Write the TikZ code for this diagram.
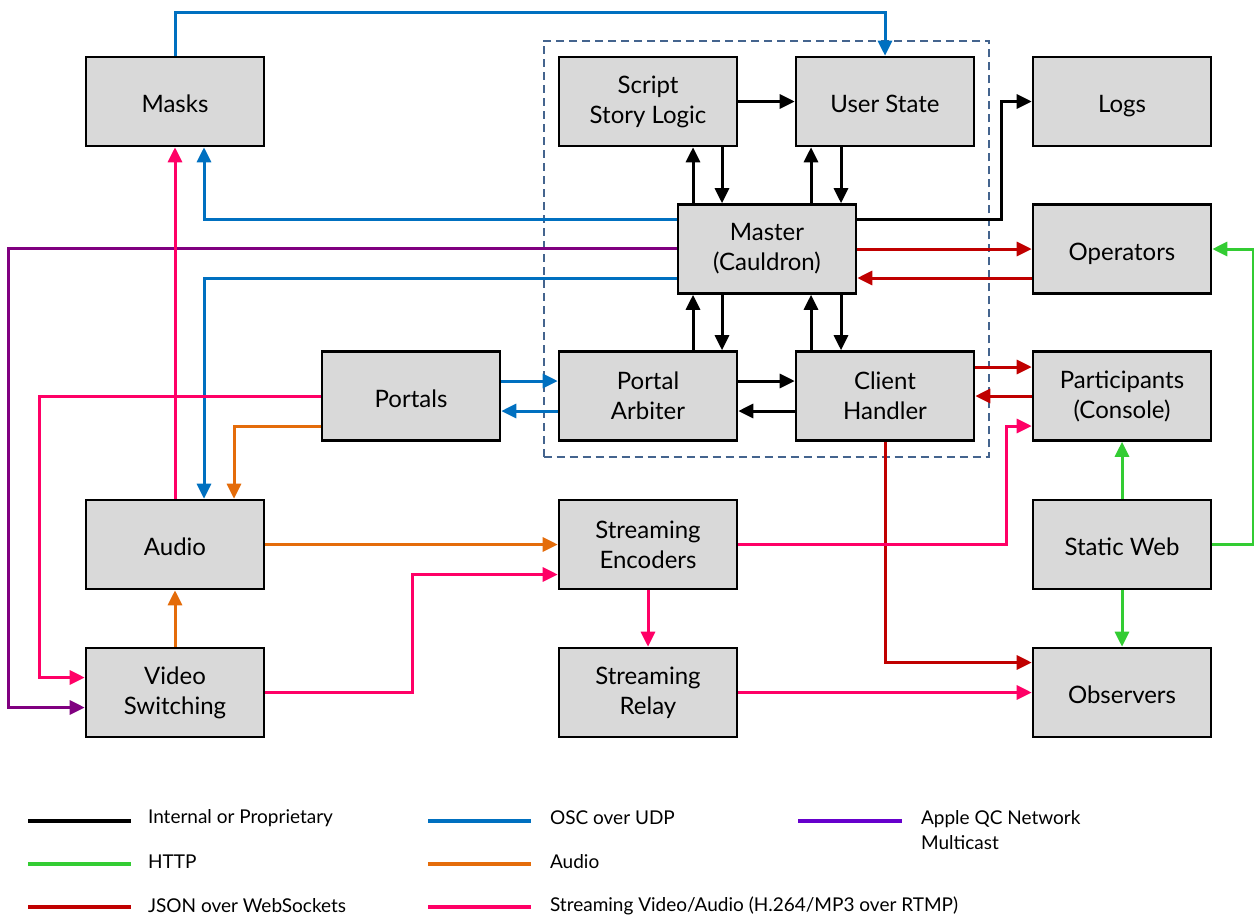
\documentclass[tikz,border=0pt]{standalone}
\usepackage{fontspec}
\setmainfont{Lato}
\usetikzlibrary{positioning,calc,arrows.meta,fit}
\definecolor{boxgray}{RGB}{217,217,217}
\definecolor{coreblue}{RGB}{68,100,142}
\definecolor{oscblue}{RGB}{0,112,192}
\definecolor{qcpurple}{RGB}{128,0,128}
\definecolor{qclegend}{RGB}{102,0,204}
\definecolor{httpgreen}{RGB}{51,204,51}
\definecolor{jsonred}{RGB}{192,0,0}
\definecolor{audioorange}{RGB}{228,108,10}
\definecolor{streampink}{RGB}{255,0,102}
\tikzset{
  figfont/.style={font=\fontsize{12}{15}\selectfont},
  legfont/.style={font=\fontsize{9.5}{12.5}\selectfont},
  figbox/.style={draw, line width=1.3pt, fill=boxgray, align=center,
    minimum width=89pt, minimum height=44.5pt, inner sep=2pt},
  onebox/.style={figbox, text height=11pt, text depth=0pt},
  corebox/.style={draw=coreblue, line width=1pt, dash pattern=on 4pt off 2.5pt,
    inner xsep=7pt, inner ysep=7.5pt},
  figarrow/.style={-{Triangle[length=7.5pt,width=7pt]}, line width=1.5pt},
  intline/.style={figarrow, black},
  oscline/.style={figarrow, oscblue},
  qcline/.style={figarrow, qcpurple},
  jsonline/.style={figarrow, jsonred},
  audioline/.style={figarrow, audioorange},
  streamline/.style={figarrow, streampink},
  httpline/.style={figarrow, httpgreen},
  legline/.style={line width=2pt},
}

\begin{document}
\begin{tikzpicture}[figfont, x=0.5pt, y=-0.5pt]
  \useasboundingbox (0,0) rectangle (1254,916);

  % Components
  \node[onebox] (masks) at (175,101.5) {Masks};
  \node[figbox] (script) at (648,101.5) {Script\\Story Logic};
  \node[onebox] (userstate) at (885,101.5) {User State};
  \node[onebox] (logs) at (1122,101.5) {Logs};
  \node[figbox] (master) at (767,249) {Master\\(Cauldron)};
  \node[onebox] (operators) at (1122,249) {Operators};
  \node[onebox] (portals) at (411,396) {Portals};
  \node[figbox] (arbiter) at (648,396) {Portal\\Arbiter};
  \node[figbox] (client) at (885,396) {Client\\Handler};
  \node[figbox] (participants) at (1122,396) {Participants\\(Console)};
  \node[onebox] (audio) at (175,544.5) {Audio};
  \node[figbox] (encoders) at (648,544.5) {Streaming\\Encoders};
  \node[onebox] (staticweb) at (1122,544.5) {Static Web};
  \node[figbox] (video) at (175,692.5) {Video\\Switching};
  \node[figbox] (relay) at (648,692.5) {Streaming\\Relay};
  \node[onebox] (observers) at (1122,692.5) {Observers};

  % Core boundary
  \node[corebox, fit=(script)(client)] (core) {};

  % Internal or proprietary
  \draw[intline] (script.east) -- (userstate.west);
  \draw[intline] ($(master.north)+(-74,0)$) -- ($(script.south)+(45,0)$);
  \draw[intline] ($(script.south)+(74,0)$) -- ($(master.north)+(-45,0)$);
  \draw[intline] ($(master.north)+(44,0)$) -- ($(userstate.south)+(-74,0)$);
  \draw[intline] ($(userstate.south)+(-44,0)$) -- ($(master.north)+(74,0)$);
  \draw[intline] ($(arbiter.north)+(45,0)$) -- ($(master.south)+(-74,0)$);
  \draw[intline] ($(master.south)+(-45,0)$) -- ($(arbiter.north)+(74,0)$);
  \draw[intline] ($(client.north)+(-74,0)$) -- ($(master.south)+(44,0)$);
  \draw[intline] ($(master.south)+(74,0)$) -- ($(client.north)+(-44,0)$);
  \draw[intline] ($(arbiter.east)+(0,-15)$) -- ($(client.west)+(0,-15)$);
  \draw[intline] ($(client.west)+(0,15)$) -- ($(arbiter.east)+(0,15)$);
  \draw[intline] ($(master.east)+(0,-30)$) -| ($(logs.west)+(-30,0)$) -- (logs.west);

  % OSC over UDP
  \draw[oscline] (masks.north) -- ++(0,-43) -| (userstate.north);
  \draw[oscline] ($(master.west)+(0,-30)$) -| ($(masks.south)+(29,0)$);
  \draw[oscline] ($(master.west)+(0,29)$) -| ($(audio.north)+(29,0)$);
  \draw[oscline] ($(portals.east)+(0,-15)$) -- ($(arbiter.west)+(0,-15)$);
  \draw[oscline] ($(arbiter.west)+(0,15)$) -- ($(portals.east)+(0,15)$);

  % Apple QC network multicast
  \draw[qcline] ($(master.west)+(0,-1)$) -- ++(-668,0) |- ($(video.west)+(0,15)$);

  % JSON over WebSockets
  \draw[jsonline] (master.east) -- (operators.west);
  \draw[jsonline] ($(operators.west)+(0,29)$) -- ($(master.east)+(0,29)$);
  \draw[jsonline] ($(client.east)+(0,-29)$) -- ($(participants.west)+(0,-29)$);
  \draw[jsonline] (participants.west) -- (client.east);
  \draw[jsonline] (client.south) |- ($(observers.west)+(0,-30)$);

  % Audio
  \draw[audioline] ($(portals.west)+(0,30)$) -| ($(audio.north)+(59,0)$);
  \draw[audioline] (audio.east) -- (encoders.west);
  \draw[audioline] (video.north) -- (audio.south);

  % Streaming video/audio
  \draw[streamline] (audio.north) -- (masks.south);
  \draw[streamline] (portals.west) -- ++(-281,0) |- ($(video.west)+(0,-15)$);
  \draw[streamline] (video.east) -- ++(147,0) |- ($(encoders.west)+(0,30)$);
  \draw[streamline] (encoders.south) -- (relay.north);
  \draw[streamline] (relay.east) -- (observers.west);
  \draw[streamline] (encoders.east) -- ++(268,0) |- ($(participants.west)+(0,30)$);

  % HTTP
  \draw[httpline] (staticweb.north) -- (participants.south);
  \draw[httpline] (staticweb.south) -- (observers.north);
  \draw[httpline] (staticweb.east) -- ++(41,0) |- (operators.east);

  % Legend
  \draw[legline, black] (28,821) -- (131,821);
  \node[legfont, anchor=west] (leginternal) at (141,818) {Internal or Proprietary};
  \draw[legline, httpgreen] (28,864) -- (131,864);
  \node[legfont, anchor=west] (leghttp) at (141,862) {HTTP};
  \draw[legline, jsonred] (28,907) -- (131,907);
  \node[legfont, anchor=west] (legjson) at (141,906) {JSON over WebSockets};
  \draw[legline, oscblue] (428,821) -- (531,821);
  \node[legfont, anchor=west] (legosc) at (543,818) {OSC over UDP};
  \draw[legline, audioorange] (428,864) -- (531,864);
  \node[legfont, anchor=west] (legaudio) at (543,862) {Audio};
  \draw[legline, streampink] (428,907) -- (531,907);
  \node[legfont, anchor=west] (legstream) at (543,906) {Streaming Video/Audio (H.264/MP3 over RTMP)};
  \draw[legline, qclegend] (798,821) -- (902,821);
  \node[legfont, anchor=west, align=left] (legqc) at (914,830) {Apple QC Network\\Multicast};
\end{tikzpicture}
\end{document}
